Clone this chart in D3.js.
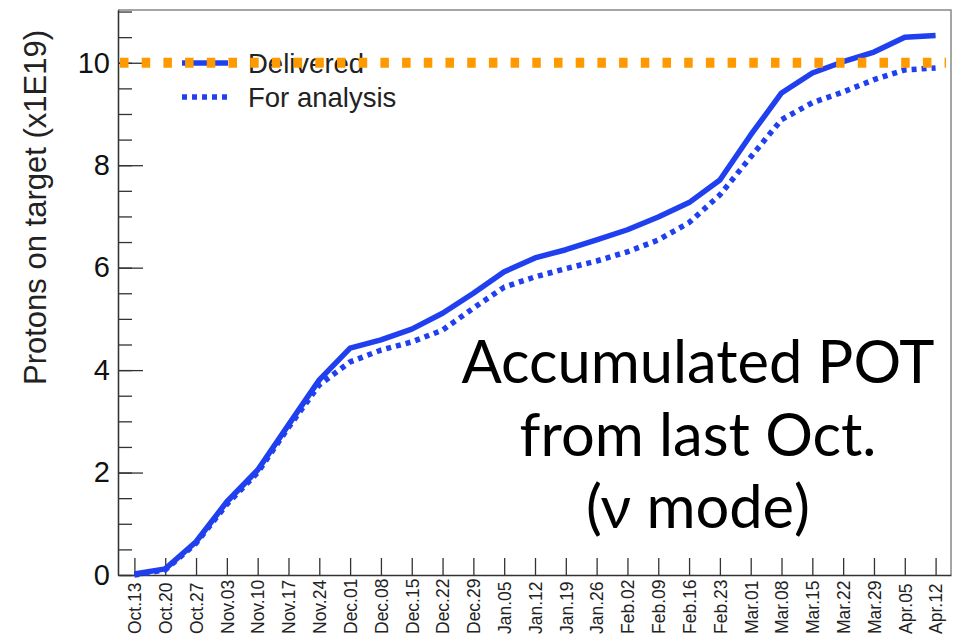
<!DOCTYPE html>
<html>
<head>
<meta charset="utf-8">
<script src="https://cdn.jsdelivr.net/npm/d3@7.9.0/dist/d3.min.js"></script>
<style>
  body { margin: 0; background: #fff; }
  svg { display: block; font-family: "Liberation Sans", Arial, sans-serif; }
</style>
</head>
<body>
<svg id="chart" width="954" height="639"></svg>
<script>
// weekly accumulated protons on target (x1E19)
const weeks = ['Oct.13', 'Oct.20', 'Oct.27', 'Nov.03', 'Nov.10', 'Nov.17', 'Nov.24',
    'Dec.01', 'Dec.08', 'Dec.15', 'Dec.22', 'Dec.29', 'Jan.05', 'Jan.12', 'Jan.19',
    'Jan.26', 'Feb.02', 'Feb.09', 'Feb.16', 'Feb.23', 'Mar.01', 'Mar.08', 'Mar.15',
    'Mar.22', 'Mar.29', 'Apr.05', 'Apr.12'];
const delivered = [0.02, 0.12, 0.65, 1.43, 2.05, 2.93, 3.81, 4.43, 4.59, 4.80, 5.11, 5.50,
    5.92, 6.19, 6.35, 6.54, 6.74, 6.99, 7.27, 7.71, 8.59, 9.41, 9.80, 10.02, 10.21, 10.50, 10.53];
const forAnalysis = [0.0, 0.10, 0.62, 1.38, 2.00, 2.88, 3.71, 4.16, 4.39, 4.55, 4.78, 5.21,
    5.62, 5.82, 5.98, 6.13, 6.31, 6.54, 6.88, 7.42, 8.16, 8.89, 9.22, 9.43, 9.67, 9.86, 9.90];
const goal = 10;
const majorTicks = [0, 2, 4, 6, 8, 10];
const noteLines = ['Accumulated POT', 'from last Oct.', '(\u03bd mode)'];

const blue = '#2040f0';
const orange = '#ff9900';

const svg = d3.select('#chart');
const area = { left: 118, right: 951, top: 10, bottom: 575 };

const x = d3.scalePoint()
    .domain(weeks)
    .range([area.left + 1, area.right])
    .padding(0.5);
const y = d3.scaleLinear()
    .domain([0, 11.03])
    .range([area.bottom, area.top]);

// frame (top + right)
svg.append('path')
    .attr('d', `M${area.left},${area.top}H${area.right}V${area.bottom}`)
    .attr('fill', 'none')
    .attr('stroke', '#888')
    .attr('stroke-width', 1.5);

// x axis with rotated week labels
const xAxis = svg.append('g')
    .attr('transform', `translate(0,${area.bottom})`)
    .call(d3.axisBottom(x).tickSize(-17).tickSizeOuter(0));
xAxis.selectAll('text')
    .attr('transform', 'rotate(-90)')
    .attr('x', -59)
    .attr('y', 0)
    .attr('dy', '0.36em')
    .style('text-anchor', 'start')
    .style('font-size', '17.5px')
    .attr('fill', '#222');

// y axis: minor ticks every 0.5, major every 2
svg.append('g')
    .attr('transform', `translate(${area.left},0)`)
    .call(d3.axisLeft(y).tickValues(d3.range(0, 11.01, 0.5)).tickSize(-14).tickSizeOuter(0).tickFormat(''));
const yAxis = svg.append('g')
    .attr('transform', `translate(${area.left},0)`)
    .call(d3.axisLeft(y).tickValues(majorTicks).tickSize(-25).tickSizeOuter(0).tickPadding(8));
yAxis.selectAll('text')
    .style('font-size', '29px')
    .attr('fill', '#111');
svg.selectAll('.domain, .tick line').attr('stroke', '#333').attr('stroke-width', 1.3);

// y title
svg.append('text')
    .attr('transform', 'translate(46,30) rotate(-90)')
    .style('text-anchor', 'end')
    .style('font-size', '31px')
    .attr('fill', '#222')
    .text('Protons on target (x1E19)');

// curves
const line = d3.line()
    .x((d, i) => x(weeks[i]))
    .y((d) => y(d));
svg.append('path')
    .datum(forAnalysis)
    .attr('d', line)
    .attr('fill', 'none')
    .attr('stroke', blue)
    .attr('stroke-width', 5.5)
    .attr('stroke-dasharray', '5 5');
svg.append('path')
    .datum(delivered)
    .attr('d', line)
    .attr('fill', 'none')
    .attr('stroke', blue)
    .attr('stroke-width', 5.5)
    .attr('stroke-linejoin', 'round');

// legend
const legend = svg.append('g');
const legendItems = [
    { label: 'Delivered', dash: null, y: 63 },
    { label: 'For analysis', dash: '5 5', y: 97 },
];
legendItems.forEach((d) => {
    legend.append('line')
        .attr('x1', 182).attr('x2', 228)
        .attr('y1', d.y).attr('y2', d.y)
        .attr('stroke', blue)
        .attr('stroke-width', 5.5)
        .attr('stroke-dasharray', d.dash);
    legend.append('text')
        .attr('x', 248)
        .attr('y', d.y + 10)
        .style('font-size', '27.5px')
        .attr('fill', '#222')
        .text(d.label);
});

// goal line at 10
svg.append('line')
    .attr('x1', 120).attr('x2', 946)
    .attr('y1', y(goal)).attr('y2', y(goal))
    .attr('stroke', orange)
    .attr('stroke-width', 10)
    .attr('stroke-dasharray', '8.5 13.2');

// big annotation
const note = svg.append('g')
    .style('font-family', 'Lato, "Open Sans", sans-serif')
    .style('text-anchor', 'middle')
    .attr('fill', '#000');
const noteTexts = note.selectAll('text')
    .data(noteLines)
    .join('text')
    .attr('x', 698)
    .attr('y', (d, i) => 383 + i * 72.5)
    .style('font-size', '60px')
    .text((d) => d);
const w = noteTexts.node().getComputedTextLength();
noteTexts.style('font-size', `${60 * 473 / w}px`);
</script>
</body>
</html>
